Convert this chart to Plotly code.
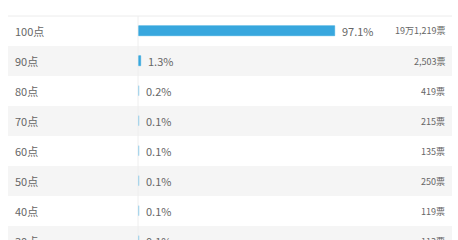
import plotly.graph_objects as go

categories = ["100点", "90点", "80点", "70点", "60点", "50点", "40点", "30点"]
percents = [97.1, 1.3, 0.2, 0.1, 0.1, 0.1, 0.1, 0.1]
pct_labels = ["97.1%", "1.3%", "0.2%", "0.1%", "0.1%", "0.1%", "0.1%", "0.1%"]
votes = ["19万1,219票", "2,503票", "419票", "215票", "135票", "250票", "119票", "113票"]

W, H = 458, 240
x0_px = 138.5
px_per_unit = 2.02
row_h = 30
first_center = 31

x_range = [-x0_px / px_per_unit, (W - x0_px) / px_per_unit]
y_range = [(H - first_center) / row_h, -first_center / row_h]


def paper_y(i):
    return 1 - (first_center + i * row_h) / H


font = "Noto Sans CJK JP, Noto Sans, sans-serif"
fig = go.Figure()

shapes = []
for i, c in enumerate(categories):
    if i % 2 == 1:
        shapes.append(dict(type="rect", xref="paper", yref="y", x0=8 / W, x1=452 / W,
                           y0=i - 0.5, y1=i + 0.5, fillcolor="#f5f5f5", line_width=0, layer="below"))
shapes.append(dict(type="line", xref="paper", yref="y", x0=8 / W, x1=452 / W, y0=-0.5, y1=-0.5,
                   line=dict(color="#ececec", width=1), layer="below"))
shapes.append(dict(type="line", xref="x", yref="y", x0=-0.25, x1=-0.25, y0=-0.5, y1=len(categories),
                   line=dict(color="#eeeeee", width=1), layer="below"))

colors = ["#38a7de" if p >= 1 else "#8fcbe9" for p in percents]
fig.add_trace(go.Bar(
    x=percents, y=categories, orientation="h", width=10 / row_h,
    marker=dict(color=colors, line=dict(color=colors, width=0.6)),
    hoverinfo="skip",
))

annotations = []
for i, c in enumerate(categories):
    py = paper_y(i)
    annotations.append(dict(x=13 / W, xref="paper", y=py, yref="paper", text=c, showarrow=False,
                            xanchor="left", yanchor="middle",
                            font=dict(family=font, size=11, color="#666666")))
    annotations.append(dict(x=percents[i], xref="x", y=py, yref="paper", text=pct_labels[i], showarrow=False,
                            xanchor="left", yanchor="middle", xshift=5,
                            font=dict(family=font, size=11, color="#666666")))
    annotations.append(dict(x=447 / W, xref="paper", y=py, yref="paper", text=votes[i], showarrow=False,
                            xanchor="right", yanchor="middle",
                            font=dict(family=font, size=9, color="#666666")))

fig.update_layout(
    width=W, height=H, margin=dict(l=0, r=0, t=0, b=0),
    paper_bgcolor="white", plot_bgcolor="white",
    showlegend=False, shapes=shapes, annotations=annotations,
    xaxis=dict(range=x_range, visible=False, fixedrange=True),
    yaxis=dict(type="category", categoryarray=categories, range=y_range, visible=False, fixedrange=True),
    bargap=0,
)
fig.write_html("out.html", config={"displayModeBar": False})
